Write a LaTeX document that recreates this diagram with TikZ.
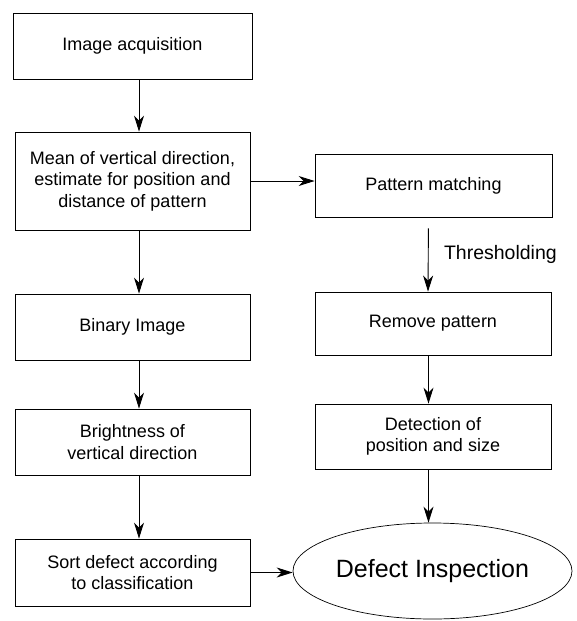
\documentclass[tikz,border=0pt]{standalone}
\usepackage{fontspec}
\setmainfont{Liberation Sans}
\usetikzlibrary{positioning, arrows.meta, shapes.geometric}

\begin{document}
\begin{tikzpicture}[
    % Global Styles
    x=1pt, y=-1pt,
    font=\fontsize{18}{21.5}\selectfont,
    >={Stealth[length=16pt, width=10pt, inset=5pt]},
    % Process boxes
    stepbox/.style={
        draw,
        line width=0.8pt,
        minimum width=235pt,
        minimum height=66pt,
        align=center,
        inner sep=2pt
    },
    % The final ellipse
    goal/.style={
        ellipse,
        draw,
        line width=0.7pt,
        minimum width=279pt,
        minimum height=96pt,
        inner sep=0pt,
        font=\fontsize{25}{30}\selectfont
    },
    % Connectors
    flow/.style={->, line width=0.9pt}
]

    % --- Canvas ---
    \useasboundingbox (0,0) rectangle (576,621);

    % --- Left column ---
    \node[stepbox, minimum width=239pt] (acq) at (132.5, 46) {Image acquisition};
    \node[stepbox, minimum height=98pt] (mean) at (132.5, 181) {Mean of vertical direction,\\estimate for position and\\distance of pattern};
    \node[stepbox] (binary) at (132.5, 327) {Binary Image};
    \node[stepbox] (bright) at (132.5, 442) {Brightness of\\vertical direction};
    \node[stepbox, minimum height=67pt] (sort) at (132.5, 572.5) {Sort defect according\\to classification};

    % --- Right column ---
    \node[stepbox, minimum width=237pt, minimum height=63pt] (pattern) at (433.5, 185.5) {Pattern matching};
    \node[stepbox, minimum width=236pt, minimum height=63pt] (remove) at (433, 323.5) {Remove pattern};
    \node[stepbox, minimum width=236pt, minimum height=65pt] (detect) at (433, 436.5) {Detection of\\position and size};
    \node[goal] (insp) at (432.5, 571) {Defect Inspection};

    % --- Connectors ---
    \draw[flow] ([xshift=6.5pt]acq.south) -- ([xshift=6.5pt]mean.north);
    \draw[flow] ([xshift=6.5pt]mean.south) -- ([xshift=6.5pt]binary.north);
    \draw[flow] ([xshift=6.5pt]binary.south) -- ([xshift=6.5pt]bright.north);
    \draw[flow] ([xshift=6.5pt]bright.south) -- ([xshift=6.5pt]sort.north);
    \draw[flow] (mean.east) -- (mean.east -| pattern.west);
    \draw[flow, shorten <=11pt] ([xshift=-5pt]pattern.south) -- ([xshift=-5pt]remove.north)
        node[midway, anchor=west, xshift=12pt, font=\fontsize{19.5}{23}\selectfont] {Thresholding};
    \draw[flow] ([xshift=-4.5pt]remove.south) -- ([xshift=-4.5pt]detect.north);
    \draw[flow] ([xshift=-4.5pt]detect.south) -- ([xshift=-4.5pt]detect.south |- insp.north);
    \draw[flow] (sort.east) -- (sort.east -| insp.west);

\end{tikzpicture}
\end{document}
